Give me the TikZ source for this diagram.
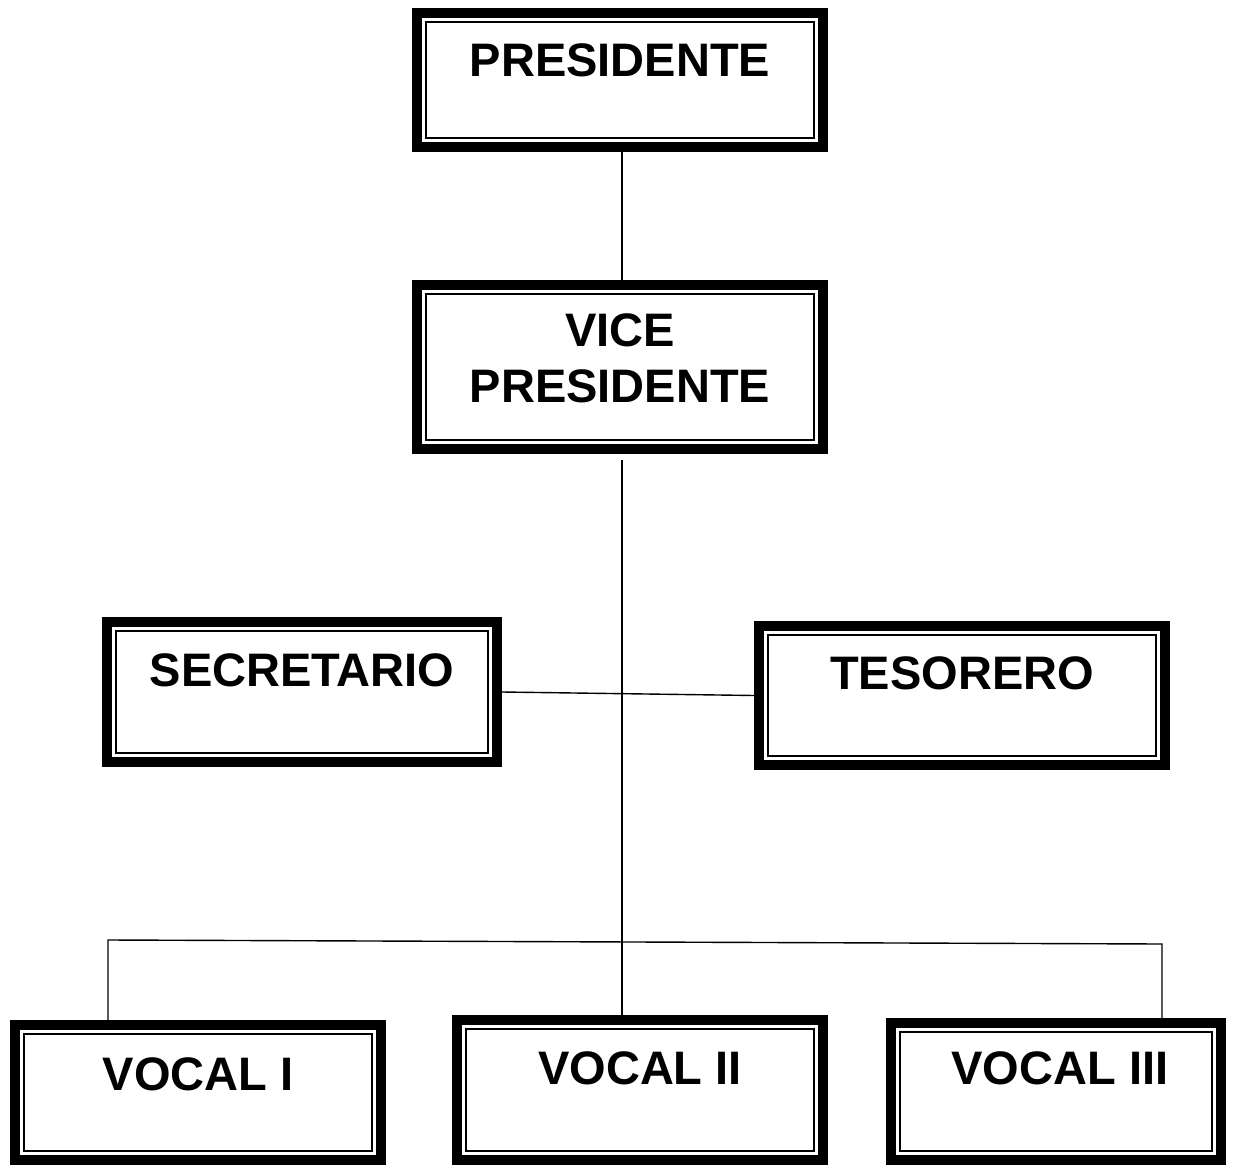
\documentclass[tikz,border=0pt]{standalone}
\usepackage{fontspec}
\setmainfont{Liberation Sans}
\begin{document}
\begin{tikzpicture}[x = 0.5pt, y = -0.5pt,
    cargo/.style = {draw, line width = 5pt, inner sep = 0pt, fill = white,
      path picture = {\draw[line width = 1.1pt]
        ([shift = {(4.5pt,4.5pt)}]path picture bounding box.south west) rectangle
        ([shift = {(-4.5pt,-4.5pt)}]path picture bounding box.north east);}},
    nombre/.style = {font = \fontsize{23.5pt}{28pt}\selectfont\bfseries, align = center, inner sep = 0pt},
    enlace/.style = {line width = 0.7pt}]
    \useasboundingbox (0, 0) rectangle (1235, 1165);
    \node[cargo, minimum width = 203pt, minimum height = 67pt]   (pres)  at ( 620,   80) {};
    \node[cargo, minimum width = 203pt, minimum height = 82pt]   (vice)  at ( 620,  367) {};
    \node[cargo, minimum width = 195pt, minimum height = 70pt]   (secr)  at ( 302,  692) {};
    \node[cargo, minimum width = 203pt, minimum height = 69.5pt] (teso)  at ( 962,  695.5) {};
    \node[cargo, minimum width = 183pt, minimum height = 67.5pt] (vocA)  at ( 198, 1092.5) {};
    \node[cargo, minimum width = 183pt, minimum height = 70pt]   (vocB)  at ( 640, 1090) {};
    \node[cargo, minimum width = 165pt, minimum height = 68.5pt] (vocC)  at (1056, 1091.5) {};
    \node[nombre] (presT) at ( 620,   60) {PRESIDENTE};
    \node[nombre] (viceT) at ( 620,  358) {VICE\\PRESIDENTE};
    \node[nombre] (secrT) at ( 302,  670) {SECRETARIO};
    \node[nombre] (tesoT) at ( 962,  673) {TESORERO};
    \node[nombre] (vocAT) at ( 198, 1074) {VOCAL I};
    \node[nombre] (vocBT) at ( 640, 1068) {VOCAL II};
    \node[nombre] (vocCT) at (1060, 1068) {VOCAL III};
    \coordinate (eje)   at ( 622,  460);
    \coordinate (busA)  at ( 108,  940);
    \coordinate (busC)  at (1162,  944);
    \draw[enlace] (pres.south -| eje) -- (vice.north -| eje);
    \draw[enlace] (eje) -- (eje |- vocB.north);
    \draw[enlace] (secr.east) -- (teso.west);
    \draw[enlace] (busA |- vocA.north) -- (busA) -- (busC) -- (busC |- vocC.north);
\end{tikzpicture}
\end{document}
